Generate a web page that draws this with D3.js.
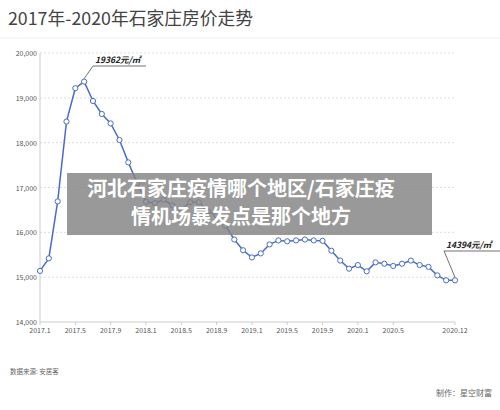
<!DOCTYPE html><html><head><meta charset="utf-8"><script src="https://cdn.jsdelivr.net/npm/d3@7"></script>
<style>body{margin:0;background:#fff}text{font-family:"Noto Sans CJK SC","Noto Sans",sans-serif}</style></head><body><svg id="c" width="500" height="410"></svg><script>
const values=[15140,15420,16690,18470,19215,19362,18930,18640,18430,18060,17560,17100,
16680,16650,16730,16600,16500,16670,16670,16470,16380,16150,15840,15600,
15440,15530,15730,15820,15800,15820,15840,15820,15810,15590,15370,15190,
15270,15130,15330,15300,15250,15300,15370,15270,15230,15040,14930,14930];
const xTickLabels=["2017.1","2017.5","2017.9","2018.1","2018.5","2018.9","2019.1","2019.5","2019.9","2020.1","2020.5","2020.12"];
const xTickIdx=[0,4,8,12,16,20,24,28,32,36,40,47];
const yTicks=[14000,15000,16000,17000,18000,19000,20000];
const peakLabel="19362元/㎡", lastLabel="14394元/㎡";
const svg=d3.select("#c");
const x=d3.scaleLinear().domain([0,47]).range([40,455]);
const y=d3.scaleLinear().domain([14000,20000]).range([322,53]);
svg.append("text").attr("x",8).attr("y",25).attr("font-size",17.8).attr("fill","#444").text("2017年-2020年石家庄房价走势");
svg.append("line").attr("x1",0).attr("x2",500).attr("y1",38).attr("y2",38).attr("stroke","#eee");
yTicks.forEach(t=>{
 if(t>14000) svg.append("line").attr("x1",40).attr("x2",455).attr("y1",y(t)).attr("y2",y(t)).attr("stroke","#ddd").attr("stroke-dasharray","2,2");
 svg.append("text").attr("x",37).attr("y",y(t)+3).attr("text-anchor","end").attr("font-size",7).attr("fill","#555").text(d3.format(",")(t));
});
svg.append("line").attr("x1",40).attr("x2",40).attr("y1",53).attr("y2",322).attr("stroke","#ccc");
svg.append("line").attr("x1",40).attr("x2",455).attr("y1",322).attr("y2",322).attr("stroke","#ccc");
xTickIdx.forEach((i,k)=>{
 svg.append("line").attr("x1",x(i)).attr("x2",x(i)).attr("y1",322).attr("y2",325).attr("stroke","#ccc");
 svg.append("text").attr("x",x(i)).attr("y",333).attr("text-anchor","middle").attr("font-size",7).attr("fill","#555").text(xTickLabels[k]);
});
svg.append("path").datum(values).attr("fill","none").attr("stroke","#4a6cc8").attr("stroke-width",1.5)
 .attr("d",d3.line().x((d,i)=>x(i)).y(d=>y(d)));
svg.selectAll("circle").data(values).join("circle").attr("cx",(d,i)=>x(i)).attr("cy",d=>y(d)).attr("r",2.6)
 .attr("fill","#fff").attr("stroke","#4a6cc8").attr("stroke-width",1);
function ann(px,py,lx,ly,w,txt){
 svg.append("polyline").attr("points",`${px},${py} ${lx},${ly} ${lx+w},${ly}`).attr("fill","none").attr("stroke","#333").attr("stroke-width",0.7);
 svg.append("text").attr("x",lx+2).attr("y",ly-3).attr("font-size",8.5).attr("font-weight","bold").attr("font-style","italic").attr("fill","#222").text(txt);
}
ann(x(5),y(values[5])-3,93,66,53,peakLabel);
ann(x(47),y(values[47])-3,444,251,56,lastLabel);
svg.append("rect").attr("x",67).attr("y",173).attr("width",365).attr("height",62).attr("fill","rgba(130,130,130,0.82)");
svg.append("text").attr("x",241).attr("y",196).attr("text-anchor","middle").attr("font-size",20).attr("font-weight","bold").attr("fill","#fff").text("河北石家庄疫情哪个地区/石家庄疫");
svg.append("text").attr("x",241).attr("y",224).attr("text-anchor","middle").attr("font-size",20).attr("font-weight","bold").attr("fill","#fff").text("情机场暴发点是那个地方");
svg.append("text").attr("x",10).attr("y",374).attr("font-size",6.5).attr("fill","#666").text("数据来源: 安居客");
svg.append("text").attr("x",492).attr("y",396).attr("text-anchor","end").attr("font-size",8).attr("fill","#666").text("制作：星空财富");
</script></body></html>
